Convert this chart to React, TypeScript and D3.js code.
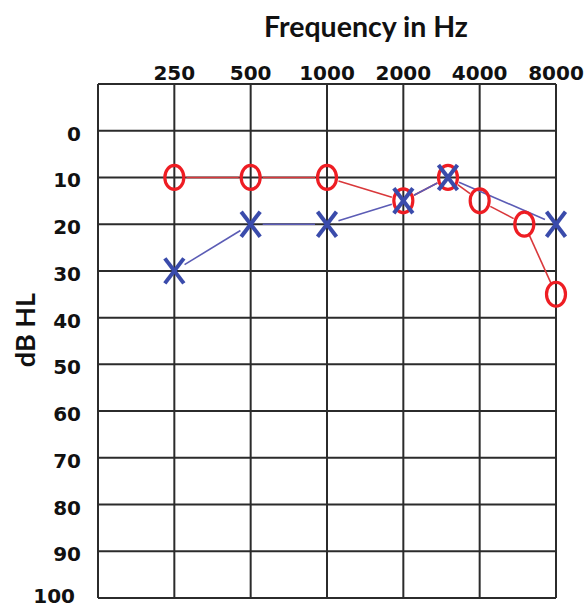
import React from "react";
import * as d3 from "d3";

const freqTicks = [250, 500, 1000, 2000, 4000, 8000];
const freqTickLabels = ["250", "500", "1000", "2000", "4000", "8000"];
const dbTicks = [0, 10, 20, 30, 40, 50, 60, 70, 80, 90, 100];
const dbTickLabels = ["0", "10", "20", "30", "40", "50", "60", "70", "80", "90", "100"];

const rightFreqs = [250, 500, 1000, 2000, 3000, 4000, 6000, 8000];
const rightDb = [10, 10, 10, 15, 10, 15, 20, 35];
const leftFreqs = [250, 500, 1000, 2000, 3000, 8000];
const leftDb = [30, 20, 20, 15, 10, 20];

const W = 588;
const H = 609;
const left = 98;
const right = 556;
const top = 84;
const bottom = 598;

const x = d3.scaleLog().base(2).domain([125, 8000]).range([left, right]);
const y = d3.scaleLinear().domain([-10, 100]).range([top, bottom]);

const RED = "#ee1d23";
const BLUE = "#3a4bab";
const RED_LINE = "#d9383b";
const BLUE_LINE = "#5b5cb5";
const GRID = "#2b2b2b";

function trimmedSegments(fs: number[], ds: number[], gap: number) {
  const segs: [number, number, number, number][] = [];
  for (let i = 0; i < fs.length - 1; i++) {
    const x1 = x(fs[i]), y1 = y(ds[i]);
    const x2 = x(fs[i + 1]), y2 = y(ds[i + 1]);
    const dx = x2 - x1, dy = y2 - y1;
    const len = Math.hypot(dx, dy);
    const g = Math.min(gap, len / 2 - 1);
    segs.push([x1 + (dx / len) * g, y1 + (dy / len) * g, x2 - (dx / len) * g, y2 - (dy / len) * g]);
  }
  return segs;
}

export default function App() {
  const vLines = [125, ...freqTicks];
  const hLines = [-10, ...dbTicks];
  const line = d3.line<[number, number]>();
  const redSegs = trimmedSegments(rightFreqs, rightDb, 12);
  const blueSegs = trimmedSegments(leftFreqs, leftDb, 12);
  return (
    <svg
      width={W}
      height={H}
      style={{ position: "absolute", left: 0, top: 0, background: "#fff" }}
    >
      <rect x={0} y={0} width={W} height={H} fill="#fff" />
      <text
        x={366}
        y={37}
        textAnchor="middle"
        fontFamily="Lato, 'Open Sans', sans-serif"
        fontWeight="bold"
        fontSize={28.5}
        fill="#111"
      >
        Frequency in Hz
      </text>
      <text
        transform={`translate(35,330) rotate(-90)`}
        textAnchor="middle"
        fontFamily="Lato, 'Open Sans', sans-serif"
        fontWeight="bold"
        fontSize={27}
        fill="#111"
      >
        dB HL
      </text>
      {freqTicks.map((f, i) => (
        <text
          key={"xl" + f}
          x={x(f)}
          y={80}
          textAnchor="middle"
          fontFamily="'DejaVu Sans', Verdana, sans-serif"
          fontWeight="bold"
          fontSize={20}
          fill="#111"
        >
          {freqTickLabels[i]}
        </text>
      ))}
      {dbTicks.map((d, i) => (
        <text
          key={"yl" + d}
          x={d === 100 ? 75 : 81}
          y={d === 100 ? 603 : y(d) + 10}
          textAnchor="end"
          fontFamily="'DejaVu Sans', Verdana, sans-serif"
          fontWeight="bold"
          fontSize={20}
          fill="#111"
        >
          {dbTickLabels[i]}
        </text>
      ))}
      <g stroke={GRID} strokeWidth={2}>
        {vLines.map((f) => (
          <line key={"v" + f} x1={x(f)} x2={x(f)} y1={top} y2={bottom} />
        ))}
        {hLines.map((d) => (
          <line key={"h" + d} x1={left} x2={right} y1={y(d)} y2={y(d)} />
        ))}
      </g>
      <g stroke={RED_LINE} strokeWidth={1.6} fill="none">
        {redSegs.map((s, i) => (
          <path key={"rs" + i} d={line([[s[0], s[1]], [s[2], s[3]]]) || ""} />
        ))}
      </g>
      <g stroke={BLUE_LINE} strokeWidth={1.6} fill="none">
        {blueSegs.map((s, i) => (
          <path key={"bs" + i} d={line([[s[0], s[1]], [s[2], s[3]]]) || ""} />
        ))}
      </g>
      <g fill="none" stroke={RED} strokeWidth={3.2}>
        {rightFreqs.map((f, i) => (
          <ellipse key={"o" + f} cx={x(f)} cy={y(rightDb[i])} rx={9.5} ry={12} />
        ))}
      </g>
      <g stroke={BLUE} strokeWidth={4} strokeLinecap="butt">
        {leftFreqs.map((f, i) => {
          const cx = x(f), cy = y(leftDb[i]);
          return (
            <g key={"x" + f}>
              <line x1={cx - 9.5} y1={cy - 12.5} x2={cx + 9.5} y2={cy + 12.5} />
              <line x1={cx + 9.5} y1={cy - 12.5} x2={cx - 9.5} y2={cy + 12.5} />
            </g>
          );
        })}
      </g>
    </svg>
  );
}
